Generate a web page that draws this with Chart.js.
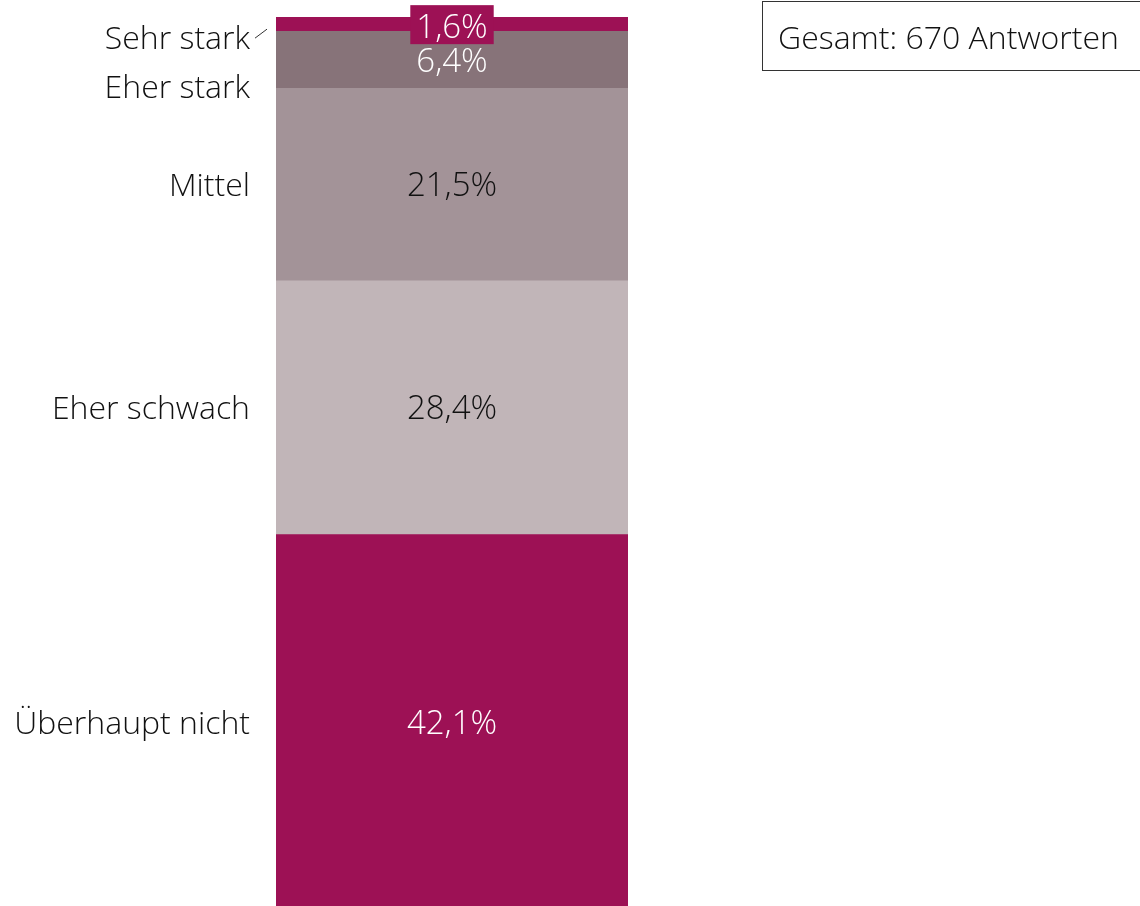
<!DOCTYPE html>
<html lang="de">
<head>
<meta charset="utf-8">
<script src="https://cdn.jsdelivr.net/npm/chart.js@4.4.1/dist/chart.umd.min.js"></script>
<style>
  html, body { margin: 0; padding: 0; background: #fff; overflow: hidden; }
  #wrap { position: relative; width: 1140px; height: 906px; overflow: hidden; }
  #chart { display: block; }
  #total {
    position: absolute; left: 762px; top: 1px; width: 380px; height: 70px;
    border: 1px solid #333; box-sizing: border-box;
    font: 300 32px "Open Sans", "Noto Sans", sans-serif; color: #111;
    line-height: 70px; padding-left: 15px; white-space: nowrap;
  }
</style>
</head>
<body>
<div id="wrap">
  <canvas id="chart" width="1140" height="911"></canvas>
  <div id="total">Gesamt: 670 Antworten</div>
</div>
<script>
  // Werte von unten nach oben gestapelt
  const categories = ["Überhaupt nicht", "Eher schwach", "Mittel", "Eher stark", "Sehr stark"];
  const values = [42.1, 28.4, 21.5, 6.4, 1.6];
  const colors = ["#9d1155", "#c1b5b8", "#a39398", "#877379", "#9d1155"];
  const textColors = ["#fff", "#111", "#111", "#fff", "#fff"];

  // kleine Verschiebungen der Beschriftungen (px), damit oben nichts überlappt
  const nameShift = [2, 2, 2, 29, 16];
  const valueShift = [2, 2, 2, 3, 4];

  const NAME_FONT = "300 32px 'Open Sans', 'Noto Sans', sans-serif";
  const VALUE_FONT = "300 33px 'Open Sans', 'Noto Sans', sans-serif";

  function fmt(v) { return v.toFixed(1).replace(".", ",") + "%"; }

  const labelPlugin = {
    id: "segLabels",
    afterDatasetsDraw(chart) {
      const ctx = chart.ctx;
      ctx.save();
      ctx.textBaseline = "middle";
      chart.data.datasets.forEach((ds, i) => {
        const bar = chart.getDatasetMeta(i).data[0];
        const yMid = (bar.y + bar.base) / 2;
        const left = bar.x - bar.width / 2;

        // Kategorie links
        ctx.font = NAME_FONT;
        ctx.fillStyle = "#111";
        ctx.textAlign = "right";
        ctx.fillText(categories[i], left - 26, yMid + nameShift[i]);

        // Wert in der Mitte
        ctx.font = VALUE_FONT;
        const txt = fmt(values[i]);
        const vy = yMid + valueShift[i];
        if (i === categories.length - 1) {
          const w = ctx.measureText(txt).width;
          ctx.fillStyle = colors[i];
          ctx.fillRect(bar.x - w / 2 - 6, vy - 23, w + 12, 39);
          // kleiner Verbindungsstrich zur Beschriftung
          ctx.strokeStyle = "#333";
          ctx.lineWidth = 1;
          ctx.beginPath();
          ctx.moveTo(left - 21, yMid + nameShift[i] - 2);
          ctx.lineTo(left - 9, yMid + nameShift[i] - 11);
          ctx.stroke();
        }
        ctx.fillStyle = textColors[i];
        ctx.textAlign = "center";
        ctx.fillText(txt, bar.x, vy);
      });
      ctx.restore();
    }
  };

  new Chart(document.getElementById("chart"), {
    type: "bar",
    data: {
      labels: [""],
      datasets: categories.map((c, i) => ({
        label: c,
        data: [values[i]],
        backgroundColor: colors[i],
        borderWidth: 0,
        barPercentage: 1,
        categoryPercentage: 1
      }))
    },
    options: {
      responsive: false,
      animation: false,
      layout: { padding: { left: 276, right: 512, top: 17, bottom: 0 } },
      plugins: { legend: { display: false }, tooltip: { enabled: false } },
      scales: {
        x: { stacked: true, display: false },
        y: { stacked: true, display: false, min: 0, max: 100 }
      }
    },
    plugins: [labelPlugin]
  });
</script>
</body>
</html>
